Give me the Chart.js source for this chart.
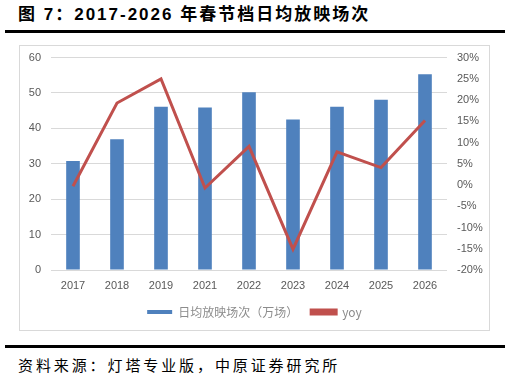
<!DOCTYPE html>
<html>
<head>
<meta charset="utf-8">
<script src="https://cdn.jsdelivr.net/npm/chart.js@4"></script>
<style>
  html, body { margin: 0; padding: 0; background: #fff; }
  body { width: 510px; height: 378px; position: relative; overflow: hidden; }
  .title {
    position: absolute; left: 5px; top: 0; width: 500px; height: 30px;
    border-bottom: 3px solid #000;
    font: bold 17px "Liberation Sans", "Noto Sans CJK SC", sans-serif;
    letter-spacing: 2px;
    line-height: 30px; text-indent: 13px; color: #000;
  }
  .box {
    position: absolute; left: 19px; top: 45px; width: 469px; height: 284px;
    border: 1px solid #d9d9d9;
  }
  .box canvas { position: absolute; left: 0; top: -5px; }
  .rule { position: absolute; left: 5px; top: 345px; width: 500px; border-top: 3px solid #000; }
  .source {
    position: absolute; left: 18px; top: 354px;
    font: 15px "Noto Sans CJK SC", sans-serif; letter-spacing: 2.9px; color: #000;
    line-height: 22px;
  }
</style>
</head>
<body>
<div class="title">图 7：2017-2026 年春节档日均放映场次</div>
<div class="box"><canvas id="chart" width="469" height="290"></canvas></div>
<div class="rule"></div>
<div class="source">资料来源：灯塔专业版，中原证券研究所</div>

<script>
var years = ['2017', '2018', '2019', '2021', '2022', '2023', '2024', '2025', '2026']
var screenings = [30.8, 36.9, 46.1, 45.9, 50.2, 42.5, 46.1, 48.1, 55.3]
var yoy = [-0.3, 19.3, 25.0, -0.7, 9.1, -15.1, 7.8, 4.1, 15.2]
var barLabel = '日均放映场次（万场）'
var lineLabel = 'yoy'

var tickFont = { family: '"Liberation Sans", sans-serif', size: 11 }
var tickColor = '#595959'

// keep the legend box short and lift its items, so the plot area matches the original
var legendFix = {
  id: 'legendFix',
  beforeInit: function (chart) {
    var fit = chart.legend.fit
    chart.legend.fit = function () {
      fit.call(this)
      this.height = 33
    }
  },
  afterLayout: function (chart) {
    chart.legend.top -= 5
    chart.legend.bottom -= 5
  }
}

var canvas = document.getElementById('chart')

new Chart(canvas, {
  data: {
    labels: years,
    datasets: [
      {
        type: 'line',
        label: lineLabel,
        data: yoy,
        yAxisID: 'y1',
        borderColor: '#C0504D',
        backgroundColor: '#C0504D',
        borderWidth: 3,
        pointRadius: 0,
        tension: 0,
        order: 0
      },
      {
        type: 'bar',
        label: barLabel,
        data: screenings,
        yAxisID: 'y',
        backgroundColor: '#4F81BD',
        barPercentage: 0.62,
        categoryPercentage: 0.5,
        order: 1
      }
    ]
  },
  plugins: [legendFix],
  options: {
    responsive: false,
    animation: false,
    layout: { padding: 0 },
    plugins: {
      tooltip: { enabled: false },
      legend: {
        position: 'bottom',
        reverse: true,
        labels: {
          boxWidth: 25,
          boxHeight: 4,
          padding: 13,
          color: '#8c8c8c',
          font: { family: '"Noto Sans CJK SC", sans-serif', size: 12 }
        }
      }
    },
    scales: {
      x: {
        grid: { display: false, drawTicks: false },
        border: { display: false },
        ticks: { color: tickColor, font: tickFont, padding: 9 },
        afterFit: function (scale) { scale.height = 28 }
      },
      y: {
        position: 'left',
        min: 0,
        max: 60,
        grid: { color: '#d9d9d9', drawTicks: false },
        border: { display: false },
        ticks: { stepSize: 10, color: tickColor, font: tickFont, padding: 10 },
        afterFit: function (scale) { scale.width = 31 }
      },
      y1: {
        position: 'right',
        min: -20,
        max: 30,
        grid: { display: false, drawTicks: false },
        border: { display: false },
        ticks: {
          stepSize: 5,
          color: tickColor,
          font: tickFont,
          padding: 10,
          callback: function (v) { return v + '%' }
        },
        afterFit: function (scale) { scale.width = 42 }
      }
    }
  }
})
</script>
</body>
</html>
